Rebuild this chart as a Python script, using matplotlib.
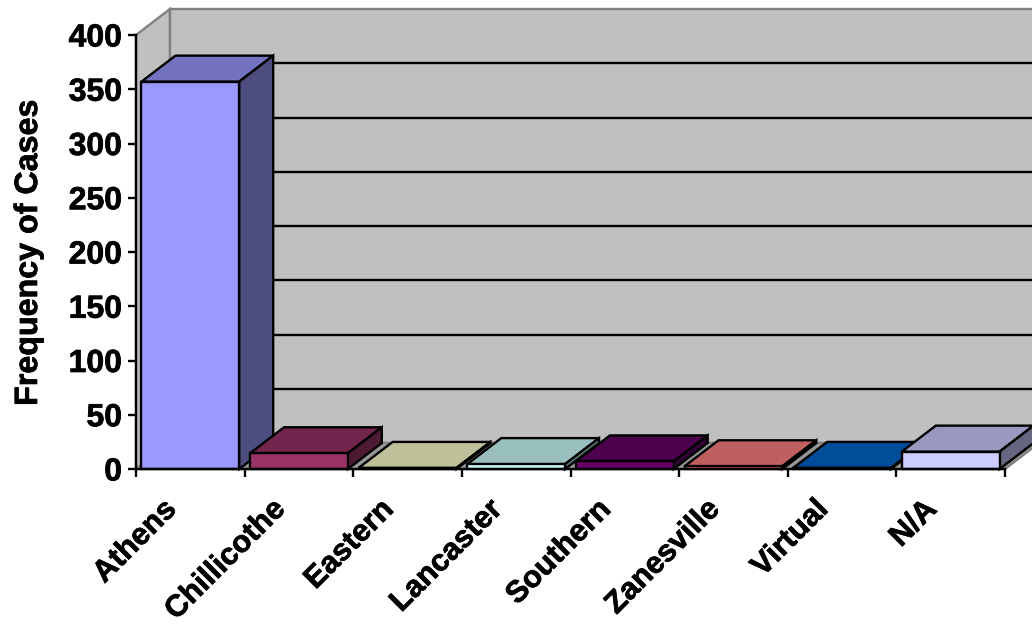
import matplotlib
matplotlib.use('Agg')
import matplotlib.pyplot as plt
import matplotlib.patheffects as pe

plt.rcParams['font.family'] = ['Liberation Sans', 'DejaVu Sans']

# data
campuses = ['Athens', 'Chillicothe', 'Eastern', 'Lancaster', 'Southern',
            'Zanesville', 'Virtual', 'N/A']
cases = [357, 14.5, 1, 4.5, 7, 2.5, 1, 16]
y_ticks = [0, 50, 100, 150, 200, 250, 300, 350, 400]

front_colors = ['#9999FF', '#993366', '#FFFFCC', '#CCFFFF', '#660066', '#FF8080', '#0066CC', '#CCCCFF']
top_colors = ['#7373BF', '#73264D', '#BFBF99', '#99BFBF', '#4D004D', '#BF6060', '#004D99', '#9999BF']
side_colors = ['#4D4D80', '#4D1A33', '#808066', '#668080', '#330033', '#804040', '#003366', '#666680']

# fake 3d depth, in data units
DX = 34 / (869 / 8)
DY = 26 / 1.085
BAR_W = 0.9
LW = 1.7

# arial bold in the original is a bit heavier than liberation
heavy = [pe.withStroke(linewidth=0.5, foreground='black')]

fig = plt.figure(figsize=(10.32, 6.28), dpi=100)
ax = fig.add_axes([136 / 1032, 159 / 628, 869 / 1032, 434 / 628])
ax.set_xlim(0, len(campuses))
ax.set_ylim(0, 400)
ax.patch.set_visible(False)

n = len(campuses)

# walls and floor
ax.fill([0, DX, DX, 0], [0, DY, 400 + DY, 400], facecolor='#C0C0C0', edgecolor='#808080',
        lw=LW, clip_on=False, zorder=1)
ax.fill([DX, n + DX, n + DX, DX], [DY, DY, 400 + DY, 400 + DY], facecolor='#C0C0C0', edgecolor='#808080',
        lw=LW, clip_on=False, zorder=1)
ax.fill([0, n, n + DX, DX], [0, 0, DY, DY], facecolor='#969696', edgecolor='#808080',
        lw=LW, clip_on=False, zorder=1)

# gridlines on back wall
for t in y_ticks[1:-1]:
    ax.plot([DX, n + DX], [t + DY, t + DY], color='black', lw=LW, clip_on=False, zorder=2)

# bars
for i, v in enumerate(cases):
    x0 = i + (1 - BAR_W) / 2
    x1 = x0 + BAR_W
    z = 3 + i
    ax.fill([x0, x1, x1 + DX, x0 + DX], [v, v, v + DY, v + DY], facecolor=top_colors[i],
            edgecolor='black', lw=LW, clip_on=False, zorder=z)
    ax.fill([x1, x1 + DX, x1 + DX, x1], [0, DY, v + DY, v], facecolor=side_colors[i],
            edgecolor='black', lw=LW, clip_on=False, zorder=z)
    ax.bar(x0, v, width=BAR_W, align='edge', color=front_colors[i], edgecolor='black',
           lw=LW, clip_on=False, zorder=z)

# axes
for s in ['top', 'right']:
    ax.spines[s].set_visible(False)
for s in ['left', 'bottom']:
    ax.spines[s].set_linewidth(LW)
    ax.spines[s].set_zorder(20)

ax.set_yticks(y_ticks)
ax.set_xticks(range(n + 1), labels=[''] * (n + 1))
ax.tick_params(axis='both', which='major', length=6, width=LW, labelsize=23)
ax.tick_params(axis='y', pad=4)
for lab in ax.get_yticklabels():
    lab.set_fontweight('bold')
    lab.set_path_effects(heavy)

ax.set_xticks([i + 0.33 for i in range(n)], labels=campuses, minor=True)
ax.tick_params(axis='x', which='minor', length=0, pad=26, labelsize=22)
for lab in ax.get_xticklabels(minor=True):
    lab.set_fontweight('bold')
    lab.set_rotation(45)
    lab.set_rotation_mode('anchor')
    lab.set_ha('right')
    lab.set_va('center')
    lab.set_path_effects(heavy)

fig.text(29 / 1032, 1 - 252.5 / 628, 'Frequency of Cases', rotation=90, fontsize=23.2,
         fontweight='bold', ha='center', va='center', path_effects=heavy)

fig.savefig('out.png', dpi=100)
